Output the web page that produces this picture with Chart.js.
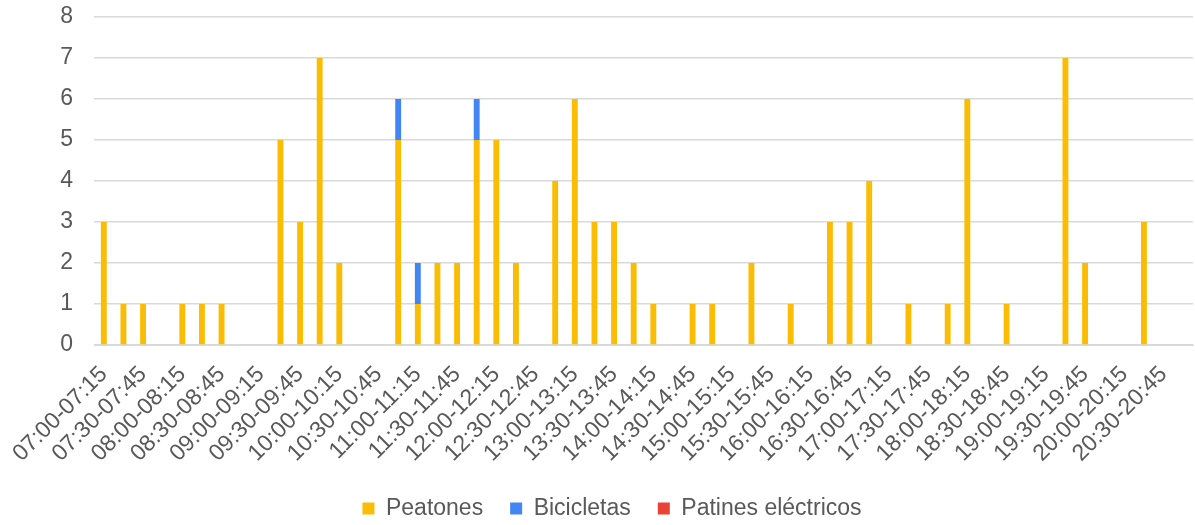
<!DOCTYPE html>
<html>
<head>
<meta charset="utf-8">
<script src="https://cdn.jsdelivr.net/npm/chart.js@4"></script>
<style>
    html, body { margin: 0; padding: 0; background: #fff; }
    #wrap { width: 1195px; height: 525px; }
</style>
</head>
<body>
<div id="wrap"><canvas id="trafficChart"></canvas></div>
<script>
// Franjas de 15 minutos, 07:00 a 21:00
const franjas = [
    "07:00-07:15", "07:15-07:30", "07:30-07:45", "07:45-08:00",
    "08:00-08:15", "08:15-08:30", "08:30-08:45", "08:45-09:00",
    "09:00-09:15", "09:15-09:30", "09:30-09:45", "09:45-10:00",
    "10:00-10:15", "10:15-10:30", "10:30-10:45", "10:45-11:00",
    "11:00-11:15", "11:15-11:30", "11:30-11:45", "11:45-12:00",
    "12:00-12:15", "12:15-12:30", "12:30-12:45", "12:45-13:00",
    "13:00-13:15", "13:15-13:30", "13:30-13:45", "13:45-14:00",
    "14:00-14:15", "14:15-14:30", "14:30-14:45", "14:45-15:00",
    "15:00-15:15", "15:15-15:30", "15:30-15:45", "15:45-16:00",
    "16:00-16:15", "16:15-16:30", "16:30-16:45", "16:45-17:00",
    "17:00-17:15", "17:15-17:30", "17:30-17:45", "17:45-18:00",
    "18:00-18:15", "18:15-18:30", "18:30-18:45", "18:45-19:00",
    "19:00-19:15", "19:15-19:30", "19:30-19:45", "19:45-20:00",
    "20:00-20:15", "20:15-20:30", "20:30-20:45", "20:45-21:00"
];

const peatones = [
    3, 1, 1, 0, 1, 1, 1, 0,
    0, 5, 3, 7, 2, 0, 0, 5,
    1, 2, 2, 5, 5, 2, 0, 4,
    6, 3, 3, 2, 1, 0, 1, 1,
    0, 2, 0, 1, 0, 3, 3, 4,
    0, 1, 0, 1, 6, 0, 1, 0,
    0, 7, 2, 0, 0, 3, 0, 0
];

const bicicletas = [
    0, 0, 0, 0, 0, 0, 0, 0,
    0, 0, 0, 0, 0, 0, 0, 1,
    1, 0, 0, 1, 0, 0, 0, 0,
    0, 0, 0, 0, 0, 0, 0, 0,
    0, 0, 0, 0, 0, 0, 0, 0,
    0, 0, 0, 0, 0, 0, 0, 0,
    0, 0, 0, 0, 0, 0, 0, 0
];

const patines = new Array( franjas.length ).fill( 0 );

const yTicks = [0, 1, 2, 3, 4, 5, 6, 7, 8];

const textColor = "#595959";
const gridColor = "#d9d9d9";
const font = { family: "'Liberation Sans', Arial, sans-serif", size: 23 };

// plot area bounds
const plotLeft = 94;
const plotBottom = 345;
const padLeft = 31;
const padBottom = -5;

const ctx = document.getElementById( "trafficChart" ).getContext( "2d" );
new Chart( ctx, {
    type: "bar",
    data: {
        labels: franjas,
        datasets: [
            { label: "Peatones", data: peatones, backgroundColor: "#fbbc04" },
            { label: "Bicicletas", data: bicicletas, backgroundColor: "#4285f4" },
            { label: "Patines eléctricos", data: patines, backgroundColor: "#ea4335" }
        ]
    },
    options: {
        responsive: true,
        maintainAspectRatio: false,
        animation: false,
        datasets: {
            bar: { categoryPercentage: 1, barPercentage: 0.3 }
        },
        layout: {
            padding: { left: padLeft, right: 2, top: 17, bottom: padBottom }
        },
        plugins: {
            tooltip: { enabled: false },
            legend: {
                position: "bottom",
                labels: {
                    color: textColor,
                    font: font,
                    boxWidth: 12,
                    boxHeight: 12,
                    padding: 27
                }
            }
        },
        scales: {
            x: {
                stacked: true,
                grid: { display: false },
                border: { color: gridColor },
                ticks: {
                    color: textColor,
                    font: font,
                    autoSkip: false,
                    maxRotation: 45,
                    minRotation: 45,
                    padding: 8,
                    callback: function ( value, index ) {
                        return index % 2 === 0 ? franjas[index] : "";
                    }
                },
                afterFit: function ( axis ) {
                    const legendH = axis.chart.legend ? axis.chart.legend.height : 0;
                    axis.height = axis.chart.height - padBottom - plotBottom - legendH;
                    axis.paddingLeft = 0;
                    axis.paddingRight = 0;
                }
            },
            y: {
                stacked: true,
                min: yTicks[0],
                max: yTicks[yTicks.length - 1],
                border: { display: false },
                grid: { color: gridColor, lineWidth: 1.5, drawTicks: false },
                afterBuildTicks: function ( axis ) {
                    axis.ticks = yTicks.map( v => ( { value: v } ) );
                },
                ticks: {
                    color: textColor,
                    font: font,
                    padding: 21
                },
                afterFit: function ( axis ) {
                    axis.width = plotLeft - padLeft;
                    axis.paddingTop = 0;
                    axis.paddingBottom = 0;
                }
            }
        }
    }
} );
</script>
</body>
</html>
